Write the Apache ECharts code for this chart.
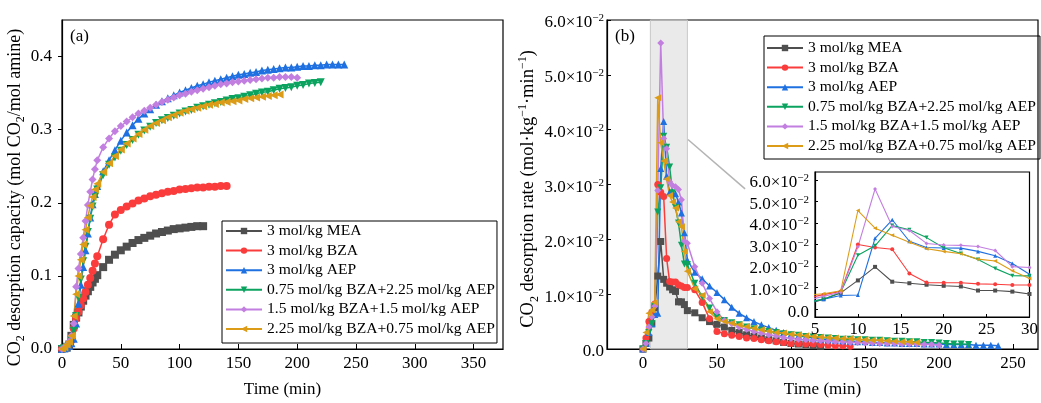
<!DOCTYPE html>
<html>
<head>
<meta charset="utf-8">
<script src="https://cdn.jsdelivr.net/npm/echarts@6/dist/echarts.min.js"></script>
<style>
  html, body { margin: 0; padding: 0; background: #fff; }
  #chart { width: 1041px; height: 403px; }
</style>
</head>
<body>
<div id="chart"></div>
<script>
// time grid (min): every 2 min up to 30, then every 5 min
const times = [0,2,4,6,8,10,12,14,16,18,20,22,24,26,28,30,
  35,40,45,50,55,60,65,70,75,80,85,90,95,100,105,110,115,120,125,130,135,140,
  145,150,155,160,165,170,175,180,185,190,195,200,205,210,215,220,225,230,235,240]

const names = ['3 mol/kg MEA','3 mol/kg BZA','3 mol/kg AEP',
  '0.75 mol/kg BZA+2.25 mol/kg AEP','1.5 mol/kg BZA+1.5 mol/kg AEP','2.25 mol/kg BZA+0.75 mol/kg AEP']

// (a) CO2 desorption capacity, mol CO2/mol amine
const capMEA = [0,0.001,0.002,0.005,0.018,0.033,0.043,0.05,0.058,0.066,0.073,0.079,0.085,0.091,0.096,0.101,
  0.112,0.122,0.129,0.135,0.14,0.145,0.149,0.152,0.155,0.158,0.16,0.162,0.164,0.165,0.166,0.167,0.168,0.168]
const capBZA = [0,0.001,0.003,0.006,0.012,0.028,0.042,0.051,0.06,0.069,0.078,0.088,0.097,0.107,0.117,0.127,
  0.15,0.17,0.184,0.19,0.195,0.199,0.203,0.206,0.209,0.211,0.213,0.215,0.216,0.218,0.219,0.22,0.221,0.221,0.222,0.222,0.223,0.223]
const capAEP = [0,0.001,0.002,0.004,0.008,0.014,0.035,0.062,0.088,0.112,0.135,0.158,0.18,0.198,0.212,0.223,
  0.243,0.258,0.272,0.285,0.296,0.306,0.315,0.322,0.328,0.334,0.339,0.343,0.347,0.351,0.354,0.357,0.36,0.362,
  0.365,0.367,0.369,0.371,0.373,0.375,0.376,0.378,0.379,0.381,0.382,0.383,0.384,0.385,0.385,0.386,0.387,0.387,
  0.388,0.388,0.389,0.389,0.389,0.389]
const capB075 = [0,0.001,0.003,0.006,0.012,0.025,0.045,0.07,0.095,0.12,0.14,0.16,0.178,0.195,0.208,0.218,
  0.238,0.252,0.262,0.271,0.279,0.286,0.293,0.299,0.304,0.309,0.313,0.316,0.319,0.322,0.325,0.327,0.33,0.332,
  0.334,0.336,0.338,0.34,0.342,0.343,0.345,0.347,0.349,0.351,0.352,0.354,0.356,0.357,0.358,0.36,0.361,0.363,0.364,0.365]
const capB15 = [0,0.002,0.005,0.01,0.018,0.035,0.085,0.11,0.13,0.152,0.175,0.197,0.215,0.232,0.246,0.258,
  0.276,0.288,0.298,0.305,0.311,0.317,0.322,0.326,0.33,0.334,0.338,0.341,0.344,0.347,0.349,0.352,0.354,0.356,
  0.358,0.36,0.362,0.363,0.365,0.366,0.367,0.368,0.369,0.37,0.371,0.371,0.372,0.372,0.372,0.371]
const capB225 = [0,0.002,0.006,0.01,0.018,0.045,0.075,0.1,0.122,0.143,0.163,0.18,0.196,0.208,0.218,0.226,
  0.242,0.254,0.264,0.273,0.281,0.288,0.294,0.3,0.305,0.309,0.313,0.317,0.32,0.323,0.326,0.328,0.33,0.332,
  0.334,0.335,0.337,0.338,0.339,0.34,0.342,0.343,0.344,0.345,0.346,0.347,0.348]

// (b) CO2 desorption rate, mol/kg/min
const rateMEA = [0,0.001,0.002,0.0046,0.0075,0.0133,0.0196,0.0127,0.012,0.0113,0.0108,0.0105,0.0086,0.0086,0.0081,0.007,
  0.0066,0.0057,0.005,0.0045,0.004,0.0034,0.003,0.0026,0.0023,0.002,0.0017,0.0015,0.0012,0.001,0.0009,0.0008,0.0006,0.0005]
const rateBZA = [0,0.002,0.005,0.0067,0.0082,0.03,0.0286,0.0278,0.0165,0.0123,0.0122,0.0122,0.0117,0.0115,0.0112,0.0112,
  0.0108,0.0085,0.0055,0.0032,0.0028,0.0025,0.0023,0.002,0.0019,0.0017,0.0015,0.0013,0.0012,0.001,0.001,0.0009,
  0.0009,0.0008,0.0007,0.0006,0.0006,0.0005]
const rateAEP = [0,0.001,0.003,0.0046,0.0063,0.0065,0.0329,0.0415,0.0315,0.0286,0.0284,0.0283,0.0268,0.0248,0.0212,0.0162,
  0.014,0.0128,0.0115,0.0103,0.009,0.0076,0.0065,0.0057,0.005,0.0044,0.0039,0.0034,0.003,0.0027,0.0024,0.0022,
  0.002,0.0018,0.0017,0.0016,0.0015,0.0014,0.0013,0.0013,0.0012,0.0012,0.0011,0.0011,0.001,0.001,0.001,0.0009,
  0.0009,0.0009,0.0008,0.0008,0.0008,0.0008,0.0007,0.0007,0.0007,0.0006]
const rateB075 = [0,0.001,0.003,0.0046,0.0078,0.025,0.0294,0.0388,0.0368,0.0332,0.0285,0.0258,0.023,0.0189,0.0155,0.0154,
  0.012,0.0095,0.0075,0.0058,0.0052,0.0048,0.0044,0.004,0.0037,0.0034,0.0032,0.003,0.0028,0.0026,0.0025,0.0023,
  0.0022,0.0021,0.002,0.0019,0.0018,0.0018,0.0017,0.0017,0.0016,0.0016,0.0015,0.0014,0.0014,0.0013,0.0013,0.0012,
  0.0012,0.0011,0.001,0.0009,0.0009,0.0008]
const rateB15 = [0,0.001,0.004,0.0059,0.0078,0.0289,0.0558,0.0384,0.0365,0.0305,0.0298,0.0296,0.0291,0.0272,0.0197,0.0193,
  0.015,0.012,0.0092,0.0068,0.0052,0.0046,0.004,0.0036,0.0032,0.0029,0.0026,0.0024,0.0021,0.0019,0.0018,0.0017,
  0.0016,0.0015,0.0014,0.0013,0.0013,0.0012,0.0012,0.0011,0.0011,0.001,0.001,0.001,0.0009,0.0009,0.0009,0.0008,
  0.0008,0.0007]
const rateB225 = [0,0.003,0.0065,0.0071,0.0085,0.0458,0.0376,0.0343,0.031,0.028,0.0268,0.0257,0.0232,0.0223,0.0178,0.0142,
  0.011,0.0098,0.0068,0.0055,0.005,0.0047,0.0044,0.0041,0.0038,0.0035,0.0033,0.003,0.0029,0.0027,0.0026,0.0024,
  0.0023,0.0022,0.0021,0.002,0.0019,0.0019,0.0018,0.0017,0.0016,0.0016,0.0015,0.0014,0.0013,0.0013,0.0012]

const ticksA = [0,50,100,150,200,250,300,350]
const ticksCapA = [0,0.1,0.2,0.3,0.4]
const ticksB = [0,50,100,150,200,250]
const ticksRate = [0,0.01,0.02,0.03,0.04,0.05,0.06]

const capAll = [capMEA, capBZA, capAEP, capB075, capB15, capB225]
const rateAll = [rateMEA, rateBZA, rateAEP, rateB075, rateB15, rateB225]

const colors = ['#4f4f4f','#fa3c3c','#1f70e0','#0ba35f','#c27fe0','#dc9c18']
const symbols = ['rect','circle','triangle','triangle','diamond','triangle']
const rotates = [0,0,0,180,0,90]
const font = 'Liberation Serif'

function pairs(vals){
  return vals.map((v,i)=>[times[i], v])
}

const chart = echarts.init(document.getElementById('chart'))

const axisLine = {onZero:false, lineStyle:{color:'#000', width:1.2}}
const lbl = {color:'#000', fontSize:17, fontFamily:font}
const expo = v => v === 0 ? '0.0' : '{m|' + (v*100).toFixed(1) + '×10}{s|−2}'
const expoRich = {
  m:{fontSize:17, fontFamily:font, color:'#000', lineHeight:20},
  s:{fontSize:11, fontFamily:font, color:'#000', lineHeight:11, verticalAlign:'top'}
}
// rich styles for the rotated y titles (sub/superscripts)
function nameRich(size){
  return {
    n:{fontSize:size, fontFamily:font, color:'#000', lineHeight:24},
    sub:{fontSize:12, fontFamily:font, color:'#000', lineHeight:12, verticalAlign:'bottom'},
    sup:{fontSize:12, fontFamily:font, color:'#000', lineHeight:12, verticalAlign:'top'}
  }
}

let series = []
names.forEach((n,i)=>{
  series.push({
    name:n, type:'line', xAxisIndex:0, yAxisIndex:0,
    data:pairs(capAll[i]), color:colors[i],
    symbol:symbols[i], symbolRotate:rotates[i], symbolSize:8,
    lineStyle:{width:1.5}
  })
})
names.forEach((n,i)=>{
  series.push({
    name:n, type:'line', xAxisIndex:1, yAxisIndex:1,
    data:pairs(rateAll[i]), color:colors[i],
    symbol:symbols[i], symbolRotate:rotates[i], symbolSize:7,
    lineStyle:{width:1.5}
  })
})
names.forEach((n,i)=>{
  // inset only needs the first part (5-30 min)
  series.push({
    name:n, type:'line', xAxisIndex:2, yAxisIndex:2, z:12,
    data:pairs(rateAll[i]).slice(0,17), color:colors[i],
    symbol:symbols[i], symbolRotate:rotates[i], symbolSize:4,
    lineStyle:{width:1.1}
  })
})
// grey band and arrow to the inset
series.push({
  name:'band', type:'line', xAxisIndex:1, yAxisIndex:1, z:0,
  data:[[5,0],[30,0]], symbol:'none', lineStyle:{opacity:0}, silent:true,
  markArea:{silent:true, itemStyle:{color:'rgba(205,205,205,0.42)', borderColor:'#c8c8c8', borderWidth:1},
    data:[[{xAxis:5},{xAxis:30}]]},
  markLine:{silent:true, symbol:['none','arrow'], symbolSize:[0,12], label:{show:false},
    lineStyle:{color:'#b4b4b4', width:1.5, type:'solid'},
    data:[[{coord:[30.4,0.0382]},{coord:[69,0.0292]}]]}
})

const legendBase = {
  orient:'vertical', itemWidth:36, itemHeight:8, itemGap:3.6,
  borderColor:'#000', borderWidth:1,
  textStyle:{fontSize:15.6, lineHeight:16, fontFamily:font, color:'#000'}, data:names
}

const option = {
  animation:false,
  backgroundColor:'#fff',
  grid:[
    {left:62, top:20, width:441, height:331, show:true, borderColor:'#000', borderWidth:1.2},
    {left:607, top:20, right:3, height:331, show:true, borderColor:'#000', borderWidth:1.2},
    {left:815, top:172, width:221, height:145, show:true, borderColor:'#000', borderWidth:1.2,
      backgroundColor:'#fff', z:10}
  ],
  legend:[
    Object.assign({left:222, top:221, padding:[2,2,6,3]}, legendBase),
    Object.assign({left:764, top:36, padding:[4,4,5,2]}, legendBase)
  ],
  graphic:[
    {type:'text', left:70, top:28, style:{text:'(a)', font:'17px "Liberation Serif"', fill:'#000'}},
    {type:'text', left:615, top:28, style:{text:'(b)', font:'17px "Liberation Serif"', fill:'#000'}}
  ],
  xAxis:[
    {gridIndex:0, type:'value', min:0, max:375, axisLine:axisLine,
      axisTick:{inside:true, length:5, customValues:ticksA, lineStyle:{color:'#000'}},
      axisLabel:Object.assign({customValues:ticksA, margin:6}, lbl),
      splitLine:{show:false},
      name:'Time (min)', nameLocation:'middle', nameGap:32, nameTextStyle:lbl},
    {gridIndex:1, type:'value', min:-24.3, max:266.9, axisLine:axisLine,
      axisTick:{inside:true, length:5, customValues:ticksB, lineStyle:{color:'#000'}},
      axisLabel:Object.assign({customValues:ticksB, margin:6}, lbl),
      splitLine:{show:false},
      name:'Time (min)', nameLocation:'middle', nameGap:32, nameTextStyle:lbl},
    {gridIndex:2, type:'value', min:5, max:30, interval:5, axisLine:axisLine, z:12,
      axisTick:{inside:true, length:3, lineStyle:{color:'#000'}},
      axisLabel:Object.assign({margin:4}, lbl),
      splitLine:{show:false}}
  ],
  yAxis:[
    {gridIndex:0, type:'value', min:0, max:0.45, axisLine:axisLine,
      axisTick:{length:4, customValues:ticksCapA, lineStyle:{color:'#000'}},
      axisLabel:Object.assign({customValues:ticksCapA, margin:10, formatter:v=>v.toFixed(1)}, lbl),
      splitLine:{show:false},
      name:'{n|CO}{sub|2}{n| desorption capacity (mol CO}{sub|2}{n|/mol amine)}',
      nameLocation:'middle', nameGap:22, nameTextStyle:{rich:nameRich(18), padding:[0,26,0,0]}},
    {gridIndex:1, type:'value', min:0, max:0.06, axisLine:axisLine,
      axisTick:{inside:true, length:4, customValues:ticksRate, lineStyle:{color:'#000'}},
      axisLabel:Object.assign({customValues:ticksRate, margin:3, padding:[6,0,0,0], formatter:expo, rich:expoRich}, lbl),
      splitLine:{show:false},
      name:'{n|CO}{sub|2}{n| desorption rate (mol·kg}{sup|−1}{n|·min}{sup|−1}{n|)}',
      nameLocation:'middle', nameGap:56, nameTextStyle:{rich:nameRich(18.5), padding:[0,9,0,0]}},
    {gridIndex:2, type:'value', min:-0.0037, max:0.0637, axisLine:axisLine, z:12,
      axisTick:{inside:true, length:3, customValues:ticksRate, lineStyle:{color:'#000'}},
      axisLabel:Object.assign({customValues:ticksRate, margin:6, padding:[6,0,0,0], formatter:expo, rich:expoRich}, lbl),
      splitLine:{show:false}}
  ],
  series:series
}

chart.setOption(option)
</script>
</body>
</html>
